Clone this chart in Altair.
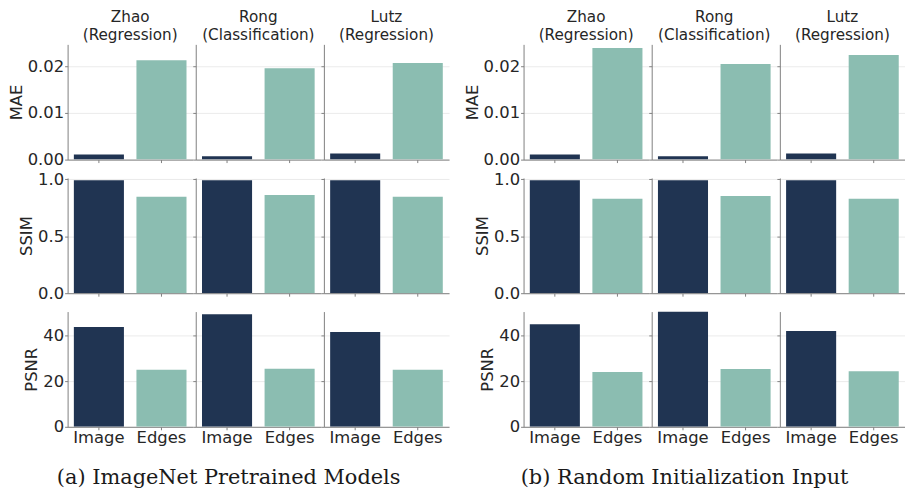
import altair as alt
import pandas as pd

MODELS = ["Zhao", "Rong", "Lutz"]
TASKS = ["(Regression)", "(Classification)", "(Regression)"]
INPUTS = ["Image", "Edges"]
METRICS = ["MAE", "SSIM", "PSNR"]
CAPTIONS = ["(a) ImageNet Pretrained Models", "(b) Random Initialization Input"]

# (a) ImageNet pretrained models
a_mae_image = [0.0011, 0.0007, 0.0013]
a_mae_edges = [0.0213, 0.0196, 0.0207]
a_ssim_image = [0.99, 0.99, 0.99]
a_ssim_edges = [0.847, 0.862, 0.847]
a_psnr_image = [43.7, 49.3, 41.5]
a_psnr_edges = [25.0, 25.4, 25.0]

# (b) Random initialization input
b_mae_image = [0.0011, 0.0007, 0.0013]
b_mae_edges = [0.0239, 0.0205, 0.0224]
b_ssim_image = [0.99, 0.99, 0.99]
b_ssim_edges = [0.828, 0.853, 0.828]
b_psnr_image = [45.0, 50.5, 42.0]
b_psnr_edges = [24.0, 25.3, 24.4]

DATA = [
    {"MAE": (a_mae_image, a_mae_edges), "SSIM": (a_ssim_image, a_ssim_edges),
     "PSNR": (a_psnr_image, a_psnr_edges)},
    {"MAE": (b_mae_image, b_mae_edges), "SSIM": (b_ssim_image, b_ssim_edges),
     "PSNR": (b_psnr_image, b_psnr_edges)},
]

DOMAINS = {"MAE": [0, 0.0247], "SSIM": [0, 1.011], "PSNR": [0, 50.5]}
TICKS = {"MAE": [0, 0.01, 0.02], "SSIM": [0, 0.5, 1.0], "PSNR": [0, 20, 40]}
FORMATS = {"MAE": ".2f", "SSIM": ".1f", "PSNR": "d"}

NAVY = "#203452"
TEAL = "#8bbdb1"
TXT = "#262626"


def panel(gi, metric, col):
    img, edg = DATA[gi][metric]
    df = pd.DataFrame({"input": INPUTS, "value": [img[col], edg[col]]})
    first = col == 0
    bottom = metric == "PSNR"
    y_axis = alt.Axis(
        values=TICKS[metric], format=FORMATS[metric], labels=first,
        title=metric if first else None, titlePadding=3, tickSize=3,
        labelPadding=1, grid=True,
    )
    x_axis = alt.Axis(
        title=None, labels=bottom, labelAngle=0, tickSize=3, bandPosition=0.5,
        labelPadding=0, grid=False,
    )
    ch = alt.Chart(df).mark_bar(clip=True).encode(
        x=alt.X("input:N", sort=INPUTS,
                scale=alt.Scale(paddingInner=0.2, paddingOuter=0.1), axis=x_axis),
        y=alt.Y("value:Q", scale=alt.Scale(domain=DOMAINS[metric], nice=False),
                axis=y_axis),
        color=alt.Color("input:N", scale=alt.Scale(domain=INPUTS, range=[NAVY, TEAL]),
                        legend=None),
    ).properties(width=126, height=116)
    if metric == "MAE":
        ch = ch.properties(title=alt.TitleParams(
            text=[MODELS[col], TASKS[col]], frame="group", anchor="middle",
            offset=1, fontSize=15.3, lineHeight=18.5, fontWeight="normal", color=TXT,
            font="DejaVu Sans"))
    return ch


groups = []
for gi in range(2):
    panels = [panel(gi, m, c) for m in METRICS for c in range(3)]
    g = alt.concat(
        *panels, columns=3, spacing={"row": 18.5, "column": 3}, bounds="flush",
        title=alt.TitleParams(text=CAPTIONS[gi], orient="bottom", anchor="middle",
                              font="DejaVu Serif", fontSize=21, fontWeight="normal",
                              color="#1a1a1a", offset=21),
    )
    groups.append(g)

chart = alt.hconcat(*groups, spacing=15).properties(padding=0).configure_view(
    stroke=None
).configure_axis(
    domainColor="#808080", domainWidth=1, tickColor="#808080", tickWidth=1,
    gridColor="#ebebeb", gridWidth=1, labelFont="DejaVu Sans", labelFontSize=16.5,
    labelColor=TXT, titleFont="DejaVu Sans", titleFontSize=16.5,
    titleFontWeight="normal", titleColor=TXT,
)

chart.save("out.html", embed_options={"renderer": "svg", "actions": False})
